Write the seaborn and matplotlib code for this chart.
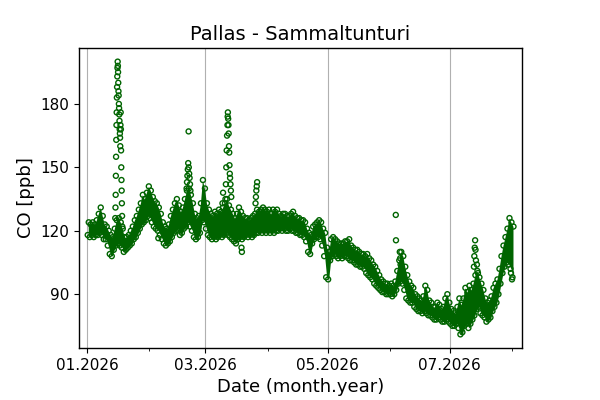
import numpy as np
import pandas as pd
import matplotlib
matplotlib.use("Agg")
import matplotlib.pyplot as plt
import matplotlib.dates as mdates
from matplotlib.ticker import MultipleLocator
import seaborn as sns

# ---- data (ppb) ----
start_date = "2026-01-01"
# daily lower / upper envelope of the hourly CO band (Jan 1 .. Aug 1)
co_low = [118,117,118,117,118,118,119,118,116,116,113,109,108,111,113,114,113,112,110,111,
          112,113,114,116,117,119,121,123,124,125,127,126,124,122,121,120,118,116,114,113,
          114,115,117,119,120,121,118,119,121,122,124,122,120,117,116,117,119,125,124,121,
          118,117,116,117,116,117,118,117,118,119,118,117,116,115,114,116,117,116,117,118,
          117,118,117,118,119,119,120,119,120,119,120,119,120,119,120,120,121,120,121,120,
          120,121,120,120,119,119,118,118,117,115,110,109,114,116,117,117,116,113,108,98,
          97,106,108,109,108,107,108,107,108,108,107,106,106,105,104,104,103,103,102,100,
          99,98,97,95,94,93,92,91,91,90,90,90,89,90,92,95,96,95,92,88,
          87,86,86,84,83,82,82,81,82,81,80,80,79,78,78,79,78,77,77,78,
          77,76,75,75,76,74,71,72,75,76,74,76,78,80,83,84,81,80,79,77,
          78,79,82,84,86,90,95,100,103,105,104,102,98]
co_high = [124,123,124,123,125,128,131,127,123,122,120,118,117,121,125,126,124,121,117,117,
           118,120,122,125,127,130,133,137,135,138,141,139,136,134,133,131,128,124,122,121,
           123,127,130,133,135,132,129,131,135,139,140,137,133,128,126,127,133,144,140,133,
           130,128,127,129,128,130,129,131,133,135,132,130,128,126,128,131,129,127,126,126,
           125,126,127,128,130,129,130,131,130,129,130,128,130,129,130,128,127,128,128,127,
           127,128,129,127,126,126,125,125,124,121,119,118,122,123,124,125,124,121,119,112,
           110,116,117,116,115,114,114,114,115,115,116,113,112,111,111,110,109,109,108,109,
           107,106,104,103,101,99,97,96,95,95,94,95,94,96,101,106,110,108,103,99,
           96,94,93,90,89,88,87,89,94,92,87,86,84,84,86,85,83,84,88,90,
           86,83,82,81,84,88,85,88,93,91,94,92,95,99,101,98,95,92,88,86,
           87,89,93,95,97,102,108,113,117,121,126,124,122]
# isolated hourly points during pollution episodes (day offset from Jan 1, ppb)
episode_day = [14.0,14.1,14.2,14.3,14.4,14.5,14.6,14.7,14.8,14.9,15.0,15.1,15.2,15.3,15.4,
               15.5,15.6,15.7,15.8,15.9,16.0,16.1,16.2,16.3,16.4,16.5,16.6,16.7,16.8,16.9,
               17.0,17.1,17.2,17.3,17.4,17.5,
               35.5,
               49.6,49.8,50.0,50.2,50.4,50.6,50.7,50.9,51.1,51.3,51.5,
               67.5,67.8,
               69.0,69.2,69.4,69.6,69.8,70.0,70.1,70.2,70.35,70.5,70.6,70.75,70.9,71.0,
               71.15,71.3,71.5,71.7,71.9,
               77.0,77.2,
               84.0,84.2,84.4,84.6,84.8,
               154.0,154.1,156.0,156.2,156.4,156.6,
               193.0,193.2,193.4,193.6,193.8,194.0,194.5,195.0,
               211.5,212.0]
episode_co = [126,131,137,146,155,163,170,176,183,188,193,197,200,198,195,
              190,186,184,180,178,175,172,168,166,164,160,170,176,168,158,
              150,144,139,133,127,122,
              116.5,
              140,143,146,149,152,167,150,147,145,142,139,
              133,138,
              135,142,150,158,165,170,174,176,173,170,166,160,157,151,
              147,145,142,139,136,
              112,110,
              133,136,139,141,143,
              127.5,115.5,110,107,104,101,
              103,108,112,115.5,111,106,104,100,
              100,97]

title = "Pallas - Sammaltunturi"
xlabel = "Date (month.year)"
ylabel = "CO [ppb]"

# ---- build tables ----
days = pd.date_range(start_date, periods=len(co_low), freq="D")
band = pd.DataFrame({"date": days + pd.Timedelta(hours=12), "low": co_low, "high": co_high})
pts = pd.concat([
    pd.DataFrame({"date": days + pd.Timedelta(hours=6), "co": co_low}),
    pd.DataFrame({"date": days + pd.Timedelta(hours=18), "co": co_high}),
    pd.DataFrame({"date": pd.Timestamp(start_date) + pd.to_timedelta(episode_day, unit="D"),
                  "co": episode_co}),
], ignore_index=True)

sns.set_style("ticks")
plt.rcParams["font.family"] = ["DejaVu Sans"]
plt.rcParams["text.color"] = "black"
plt.rcParams["axes.labelcolor"] = "black"
plt.rcParams["xtick.color"] = "black"
plt.rcParams["ytick.color"] = "black"

green = "#006400"
fig = plt.figure(figsize=(6, 4), dpi=100)
ax = fig.add_axes([0.132, 0.13, 0.738, 0.75])

ax.fill_between(band["date"], band["low"], band["high"], color=green, linewidth=0)
sns.scatterplot(data=pts, x="date", y="co", ax=ax, marker="o", s=13,
                facecolor="none", edgecolor=green, linewidth=1.0, legend=False)

ax.margins(x=0.02, y=0.05)
ax.xaxis.set_major_locator(mdates.MonthLocator(bymonth=[1, 3, 5, 7]))
ax.xaxis.set_minor_locator(mdates.MonthLocator())
ax.xaxis.set_major_formatter(mdates.DateFormatter("%m.%Y"))
ax.yaxis.set_major_locator(MultipleLocator(30))
ax.grid(axis="x", which="major", color="#b0b0b0", linewidth=0.8)
ax.set_axisbelow(True)

for s in ax.spines.values():
    s.set_color("black")
    s.set_linewidth(1.0)
ax.tick_params(axis="both", which="major", labelsize=11, length=3.5, width=0.8,
               color="black", labelcolor="black")
ax.tick_params(axis="x", which="minor", length=2, width=0.6, color="black")

ax.set_title(title, fontsize=14, color="black")
ax.set_xlabel(xlabel, fontsize=13, color="black")
ax.set_ylabel(ylabel, fontsize=13, color="black")

fig.savefig("out.png", dpi=100)
